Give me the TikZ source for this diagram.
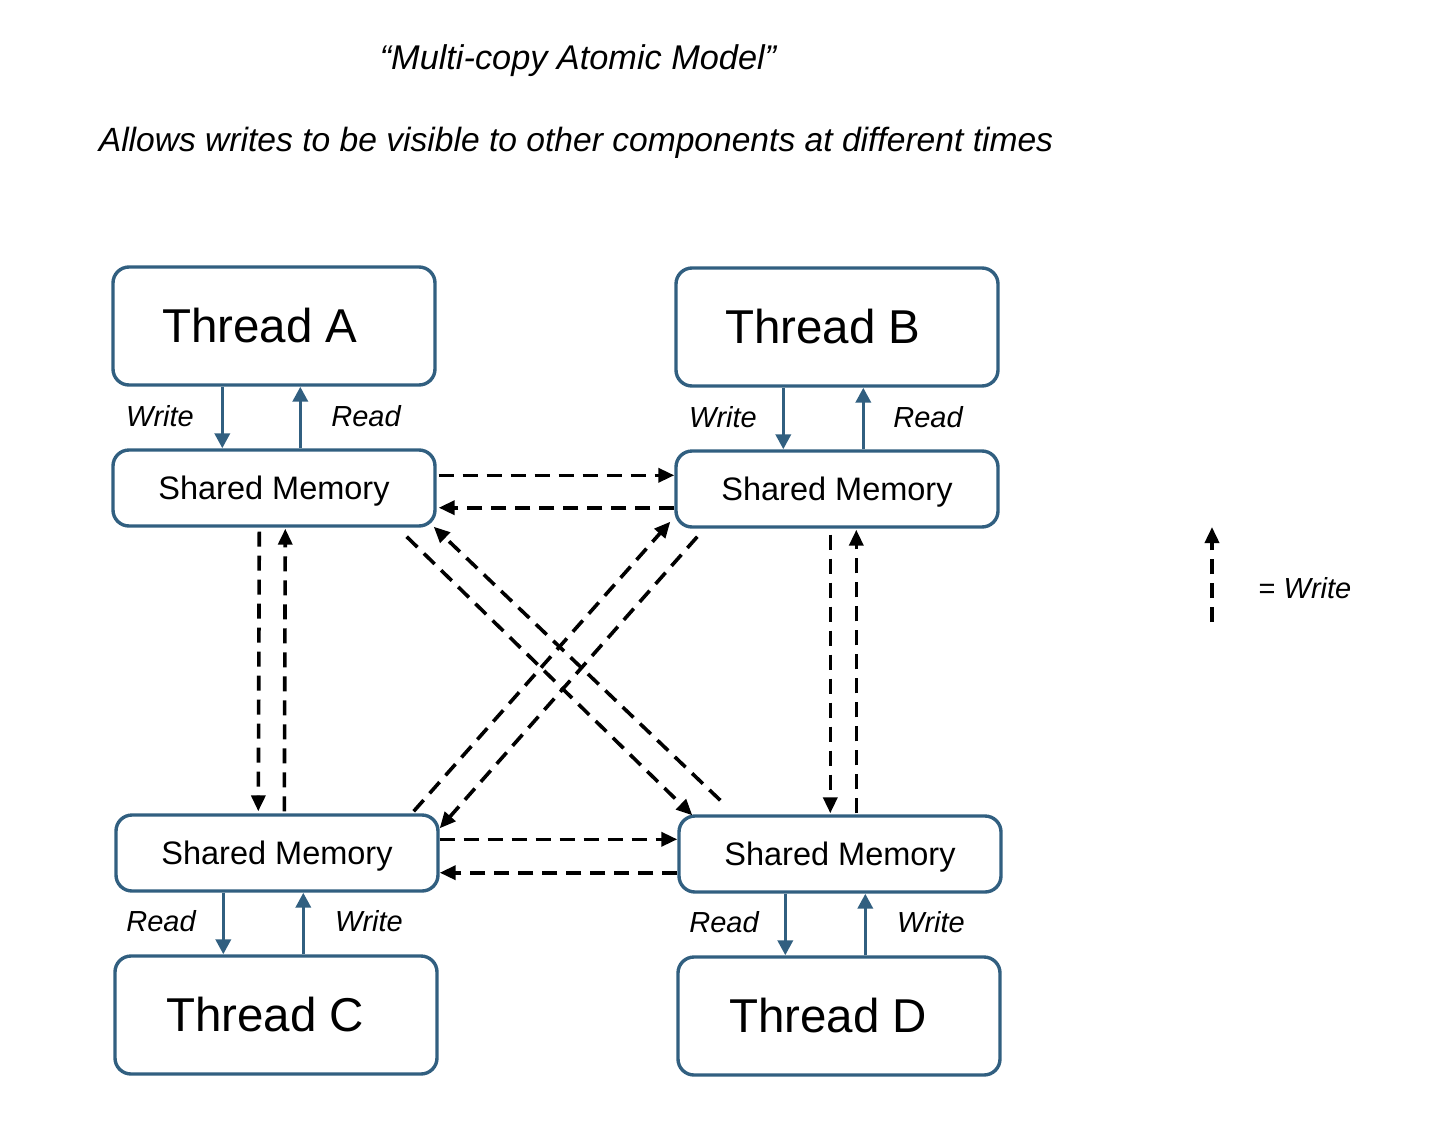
\documentclass[tikz,border=0pt]{standalone}
\usepackage{fontspec}
\setmainfont{Liberation Sans}
\usetikzlibrary{arrows.meta,calc}
\definecolor{boxblue}{RGB}{49,95,128}
\tikzset{
  box/.style={draw=boxblue, line width=3.4pt, rounded corners=16pt, fill=white, inner sep=0pt},
  threadbox/.style={box, minimum width=322pt, minimum height=118pt},
  membox/.style={box, minimum width=322pt, minimum height=76pt},
  threadtxt/.style={font=\fontsize{47.5}{50}\selectfont, inner sep=0pt},
  memtxt/.style={font=\fontsize{32.5}{36}\selectfont, inner sep=0pt},
  rwlabel/.style={font=\fontsize{29}{32}\selectfont\itshape, inner sep=0pt},
  rwarrow/.style={draw=boxblue, line width=3.6pt, -{Triangle[width=15pt,length=15pt]}},
  wdash/.style={draw=black, line width=3.6pt, dash pattern=on 15pt off 9pt, -{Triangle[width=14pt,length=16pt]}},
}
\begin{document}
\begin{tikzpicture}[x=1pt,y=-1pt]
\useasboundingbox (0,0) rectangle (1430,1130);
% titles
\node[font=\fontsize{34.3}{38}\selectfont\itshape, inner sep=0pt] (title) at (578,61) {“Multi-copy Atomic Model”};
\node[font=\fontsize{33.6}{38}\selectfont\itshape, inner sep=0pt] (sub) at (576,143) {Allows writes to be visible to other components at different times};
% boxes
\node[threadbox] (tA) at (274,326) {};
\node[membox]    (mA) at (274,488) {};
\node[threadbox] (tB) at (837,327) {};
\node[membox]    (mB) at (837,489) {};
\node[membox]    (mC) at (277,853) {};
\node[threadbox] (tC) at (276,1015) {};
\node[membox]    (mD) at (840,854) {};
\node[threadbox] (tD) at (839,1016) {};
% texts
\node[threadtxt] (tAt) at ($(tA.center)+(-14,0)$) {Thread A};
\node[threadtxt] (tBt) at ($(tB.center)+(-14,0)$) {Thread B};
\node[threadtxt] (tCt) at ($(tC.center)+(-11,0)$) {Thread C};
\node[threadtxt] (tDt) at ($(tD.center)+(-11,0)$) {Thread D};
\node[memtxt] (mAt) at ($(mA.center)+(0,3)$) {Shared Memory};
\node[memtxt] (mBt) at ($(mB.center)+(0,3)$) {Shared Memory};
\node[memtxt] (mCt) at ($(mC.center)+(0,3)$) {Shared Memory};
\node[memtxt] (mDt) at ($(mD.center)+(0,3)$) {Shared Memory};
% read/write arrows
\coordinate (aw) at ($(tA.south west)+(111,0)$);
\coordinate (ar) at ($(tA.south west)+(189,0)$);
\coordinate (bw) at ($(tB.south west)+(109,0)$);
\coordinate (br) at ($(tB.south west)+(189,0)$);
\coordinate (cr) at ($(mC.south west)+(109,0)$);
\coordinate (cw) at ($(mC.south west)+(189,0)$);
\coordinate (dr) at ($(mD.south west)+(108,0)$);
\coordinate (dw) at ($(mD.south west)+(188,0)$);
\draw[rwarrow] (aw) -- (aw |- mA.north);
\draw[rwarrow] (ar |- mA.north) -- (ar);
\draw[rwarrow] (bw) -- (bw |- mB.north);
\draw[rwarrow] (br |- mB.north) -- (br);
\draw[rwarrow] (cr) -- (cr |- tC.north);
\draw[rwarrow] (cw |- tC.north) -- (cw);
\draw[rwarrow] (dr) -- (dr |- tD.north);
\draw[rwarrow] (dw |- tD.north) -- (dw);
\node[rwlabel] (lA1) at (160,416) {Write};
\node[rwlabel] (lA2) at (366,416) {Read};
\node[rwlabel] (lB1) at (723,417) {Write};
\node[rwlabel] (lB2) at (928,417) {Read};
\node[rwlabel] (lC1) at (161,921) {Read};
\node[rwlabel] (lC2) at (369,921) {Write};
\node[rwlabel] (lD1) at (724,922) {Read};
\node[rwlabel] (lD2) at (931,922) {Write};
% horizontal dashed
\draw[wdash] ($(mA.north east)+(2,27)$) -- ($(mB.north west)+(0,26)$);
\draw[wdash] ($(mB.south west)+(0,-21)$) -- ($(mA.south east)+(2,-20)$);
\draw[wdash] ($(mC.north east)+(0,26)$) -- ($(mD.north west)+(0,25)$);
\draw[wdash] ($(mD.south west)+(0,-21)$) -- ($(mC.south east)+(0,-20)$);
% vertical dashed
\draw[wdash] ($(mA.south west)+(148,4)$) -- ($(mC.north west)+(144,-2)$);
\draw[wdash] ($(mC.north west)+(170,-2)$) -- ($(mA.south west)+(174,1)$);
\draw[wdash] ($(mB.south west)+(156,6)$) -- ($(mD.north west)+(153,-1)$);
\draw[wdash] ($(mD.north west)+(179,-1)$) -- ($(mB.south west)+(182,1)$);
% diagonals
\draw[wdash] ($(mA.south east)+(-30,9)$) -- ($(mD.north west)+(15,1)$);
\draw[wdash] ($(mD.north west)+(43,-14)$) -- ($(mA.south east)+(-3,-1)$);
\draw[wdash] ($(mC.north east)+(-26,-2)$) -- ($(mB.south west)+(-4,-7)$);
\draw[wdash] ($(mB.south west)+(23,8)$) -- ($(mC.north east)+(0,15)$);
% legend
\coordinate (lg0) at (1212,622);
\coordinate (lg1) at (1212,527);
\draw[wdash] (lg0) -- (lg1);
\node[font=\fontsize{29}{32}\selectfont, inner sep=0pt] (lgt) at (1305,588) {= \textit{Write}};
\end{tikzpicture}
\end{document}
